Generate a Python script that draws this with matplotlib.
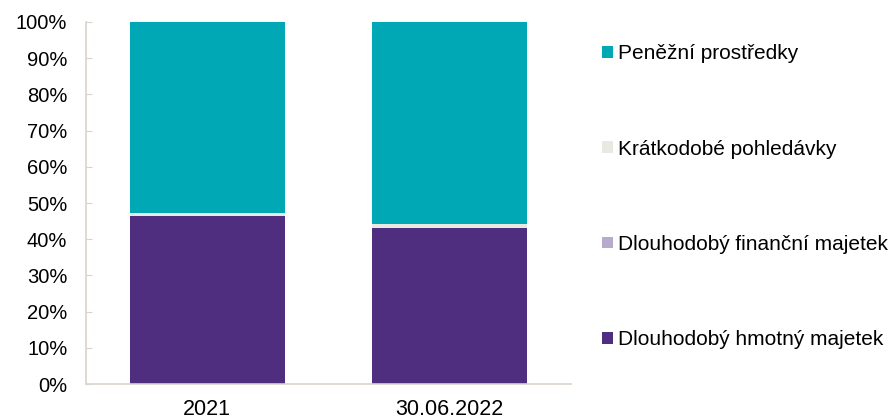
import matplotlib.pyplot as plt
import numpy as np
from matplotlib.ticker import PercentFormatter

plt.rcParams['font.family'] = ['Liberation Sans', 'DejaVu Sans']

categories = ['2021', '30.06.2022']
series_names = ['Dlouhodobý hmotný majetek', 'Dlouhodobý finanční majetek',
                'Krátkodobé pohledávky', 'Peněžní prostředky']
hmotny = [46.4, 43.0]
financni = [0.1, 0.1]
pohledavky = [0.7, 1.0]
penezni = [52.8, 55.9]
colors = ['#4F2D7F', '#B9A9CF', '#EAE8E3', '#00A8B5']

fig = plt.figure(figsize=(8.95, 4.19), dpi=100)
ax = fig.add_axes([0.0961, 0.0835, 0.542, 0.864])

x = np.arange(len(categories))
bottom = np.zeros(len(categories))
handles = []
for vals, name, col in zip([hmotny, financni, pohledavky, penezni], series_names, colors):
    b = ax.bar(x, vals, 0.64, bottom=bottom, color=col, label=name)
    handles.append(b)
    bottom += np.array(vals)

ax.set_xlim(-0.5, 1.5)
ax.set_ylim(0, 100)
ax.set_yticks(np.arange(0, 101, 10))
ax.yaxis.set_major_formatter(PercentFormatter(decimals=0))
ax.set_xticks(x)
ax.set_xticklabels(categories)

for s in ['top', 'right']:
    ax.spines[s].set_visible(False)
for s in ['left', 'bottom']:
    ax.spines[s].set_color('#D9D4CC')
    ax.spines[s].set_linewidth(1.2)

ax.tick_params(axis='y', direction='in', length=4.5, color='#D9D4CC', labelsize=14.5, pad=13.5)
ax.tick_params(axis='x', length=0, labelsize=15.5, pad=11)

leg = fig.legend(handles[::-1], series_names[::-1], loc='upper left',
                 bbox_to_anchor=(0.673, 0.894), frameon=False, fontsize=15,
                 handlelength=0.5, handleheight=0.5, handletextpad=0.25,
                 labelspacing=3.66, borderaxespad=0, borderpad=0)

fig.savefig('out.png', dpi=100)
